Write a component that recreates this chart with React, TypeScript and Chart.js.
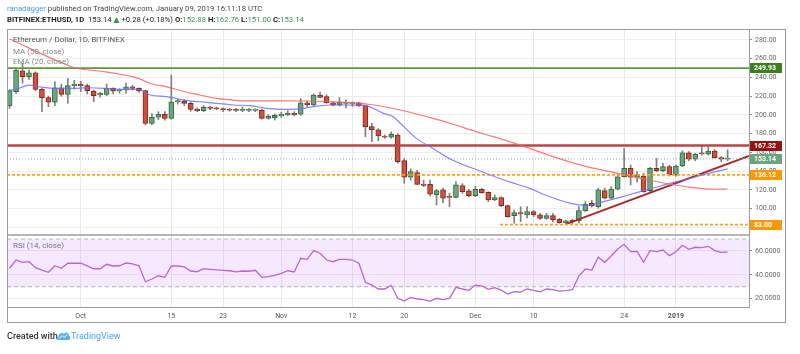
import React, { useEffect, useRef } from "react";
import { Chart, registerables } from "chart.js";

Chart.register(...registerables);

const FONT = "Roboto, 'DejaVu Sans', sans-serif";

// ---- Daily candles, 2018-09-20 .. 2019-01-09 (index = day) ----
const openP = [
  209.5, 224.8, 247.2, 240.8, 245, 227.3, 218.4, 213.5, 229, 222,
  231.2, 232.6, 231.2, 225.5, 221.5, 222, 228.4, 225.5, 226.6, 230.1,
  228.4, 225.9, 191, 197.5, 200.7, 196.4, 214.1, 214.9, 212.4, 206.3,
  204.5, 208.5, 207.5, 206.8, 206.3, 205.9, 204.8, 204.8, 204.8, 205.3,
  196.4, 197, 198.9, 200, 201.7, 200.7, 213, 210.6, 221.3, 219.5,
  213, 210.6, 212.4, 211.8, 213, 209.9, 187.5, 184, 177.5, 176.2,
  178.6, 151.2, 133.5, 138.4, 126.3, 126, 114.6, 120, 113, 112.1,
  124.5, 118.9, 113.9, 120.7, 117.5, 109.3, 111.7, 103.2, 92.5, 95.7,
  93.3, 96.8, 93.3, 89.7, 92.5, 88.7, 85, 87.5, 86.9, 97.9,
  105.7, 102.1, 119.2, 111.1, 120.7, 134.1, 143, 133.5, 134.9, 119.2,
  143, 140.5, 144.8, 135.9, 145.5, 159.7, 152.7, 159.7, 158.3, 161.5,
  154.4, 152.88,
];
const highP = [
  227, 249.7, 255, 248, 246, 228.5, 220, 235.5, 233, 239,
  237, 236, 233, 226.5, 224, 233, 229, 228, 234, 231.5,
  229, 226.5, 201.5, 203.5, 203.5, 242.6, 216.5, 216.5, 214, 207.5,
  210, 209.5, 208.5, 207.5, 207, 207, 208.5, 207, 206.5, 206.5,
  200.5, 201, 203, 204.5, 203.5, 217.5, 215, 222.5, 224.5, 221.5,
  214, 218.5, 216, 214, 213.7, 210.5, 191, 185.5, 178.5, 182,
  180, 153.5, 142.5, 141, 130.5, 130.5, 120.5, 122, 116.4, 128.8,
  126.7, 120.7, 124, 121.8, 118.1, 114.6, 112.7, 103.9, 98.5, 102.1,
  102.1, 97.9, 95, 95, 95, 89.7, 87.9, 88.6, 102.1, 107.5,
  109, 121.8, 121.8, 123.5, 136.3, 164.4, 146.5, 139.5, 137.7, 144,
  153.7, 148.4, 146.5, 146.5, 161.9, 160.8, 159, 166.9, 166, 163,
  155.5, 162.76,
];
const lowP = [
  207, 223, 234, 238, 225.9, 203.5, 208.8, 210, 220, 212.4,
  227.6, 224.8, 222.5, 214.1, 219, 220.5, 222.5, 223, 222.9, 226.5,
  224, 189.3, 189.5, 195, 194.5, 195.5, 211.5, 210, 204, 203.5,
  203.5, 205.5, 205.5, 203.5, 204, 203.5, 203.5, 203.5, 203.5, 195.5,
  195.5, 194.5, 197.5, 199, 199, 199.5, 209, 209.5, 218.5, 212.5,
  209.5, 209.5, 207.5, 209, 209, 176.8, 171.5, 172.5, 175, 175,
  148.5, 127.1, 130.5, 125.5, 123.5, 113.5, 104, 106.5, 102.1, 111.5,
  116.4, 112.8, 112.8, 116.5, 107.5, 108.6, 102.1, 90.8, 84.4, 86.1,
  90.1, 91.5, 88.6, 88.6, 86.1, 84.4, 83.3, 84, 84.4, 97,
  101.6, 100.5, 110.3, 110.3, 120, 133.5, 125.3, 128.2, 117.5, 118.1,
  139.5, 139.5, 134.8, 134.8, 144.8, 151.2, 151.2, 157.2, 157.2, 154,
  150.1, 151,
];
const closeP = [
  225.9, 248, 240.8, 245, 227.3, 218.4, 213.5, 229, 222, 231.2,
  233, 231.2, 225.9, 220.5, 223, 228.4, 225.5, 226.3, 230.1, 228.4,
  226, 191, 197.5, 200.7, 196.4, 214.1, 215.2, 212.4, 206, 204.5,
  208.1, 207, 206.3, 205.5, 205, 204.8, 205.9, 205.9, 205.6, 196.4,
  198.5, 199.5, 200.7, 201.7, 200, 212.8, 210.6, 221.3, 218.8, 213.1,
  210.6, 213.5, 213.5, 213, 209.9, 187.5, 184, 177.5, 176.2, 179.3,
  150.1, 133.5, 139.5, 126, 124.9, 115.4, 119.2, 111.1, 112, 125.3,
  118.1, 113.9, 120.7, 117.1, 109.3, 111.7, 103.2, 91.5, 95.7, 94.3,
  96.8, 93.3, 89.7, 92.5, 87.9, 85, 86.9, 86, 97.9, 104.7,
  102.9, 120, 111.1, 121, 134.1, 143, 133.5, 136, 118.1, 143,
  140.5, 144.8, 135.9, 145.5, 159.7, 152.7, 158.3, 158.3, 161.5, 154.4,
  152.9, 153.14,
];

// ---- MA (50) (day index -> value) ----
const maX = [0, 8.8, 10.4, 14.8, 19.9, 22, 24.3, 26.9, 29.4, 32, 34.6, 36.1, 40.3, 45.4, 50, 55.2, 60.4, 65.5, 68.1, 72.2, 74.8, 80.4, 84, 89.2, 94.4, 99.5, 103.1, 105.2, 109.2, 111];
const maY = [281, 253.5, 249.8, 246, 239, 233, 230, 225, 221.3, 217.7, 215.9, 215, 215, 214.9, 214, 211.7, 205.3, 196.4, 191.1, 182, 176.8, 164.4, 155.5, 144.8, 137.2, 129.5, 125, 122.8, 120.7, 121];

// ---- EMA (20) ----
const emaX = [0, 1.4, 3, 4.5, 6.6, 9.6, 12.2, 14.8, 17.3, 19.9, 21.7, 24.3, 26.9, 29.4, 32, 34.6, 37.2, 39.8, 42.3, 44.9, 47.5, 50, 54.7, 57.8, 59.3, 60.4, 62.9, 65.5, 68.1, 72.4, 77.5, 80.4, 82.8, 86.7, 89, 90.5, 91.5, 94.6, 97.2, 99.8, 103.1, 105.2, 107.5, 111];
const emaY = [226, 228.4, 231.9, 230.1, 228.4, 228.4, 229, 228.4, 227.3, 227.2, 221.3, 219.5, 215.9, 214.1, 212.4, 210.6, 209.9, 207.1, 206, 206.5, 209.5, 210.6, 210.5, 201.7, 198.1, 191.1, 175, 164, 153, 141, 128, 121.7, 114.6, 105.7, 103.5, 104.7, 107, 112.5, 117.6, 122.6, 128.8, 132.4, 136.8, 142.5];

// ---- RSI (14) one value per day ----
const rsiV = [
  45.5, 52.4, 50.5, 51, 46, 44, 42.1, 47.6, 45.5, 49.7,
  49.7, 49.7, 47.5, 45.1, 45.1, 48.8, 47.4, 47.6, 49.9, 49.1,
  47.6, 34.2, 36.5, 39.2, 37.9, 47.4, 47.4, 46.6, 43.2, 42.6,
  45.1, 44.6, 44.2, 43.8, 43.4, 42.4, 43.2, 43, 43.8, 37.9,
  38.4, 39.5, 41.3, 43.4, 42.4, 53.9, 53, 60.3, 58.1, 52.4,
  51, 53, 53, 52.4, 49.7, 33.7, 31.4, 28.1, 28.1, 31.2,
  20.3, 18, 21.1, 19.7, 19.2, 18, 20.3, 19.2, 20.3, 29.5,
  28.1, 27, 31.4, 30.8, 27.8, 29.2, 27.2, 23.9, 25.8, 25.5,
  28.1, 27, 25.8, 28.1, 27.5, 26.4, 26.7, 27.5, 39, 44.9,
  44, 54.7, 50.5, 55.8, 61.7, 65.6, 59.4, 59.7, 50.5, 60.3,
  59.4, 60.8, 56.1, 59.4, 64.8, 61.4, 63.1, 62.8, 63.9, 60.3,
  58.9, 59.1,
];

// ---- axes ----
const timeTickIdx = [11, 25, 33, 42, 53, 61, 72, 81, 95, 103];
const timeTickLabels = ["Oct", "15", "23", "Nov", "12", "20", "Dec", "10", "24", "2019"];
const priceTicks = [80, 100, 120, 140, 160, 180, 200, 220, 240, 260, 280];
const rsiTicks = [20, 40, 60];
const rsiBand = [70, 30];

// ---- drawn levels ----
const resistHigh = 249.93;
const resistMid = 167.32;
const lastClose = 153.14;
const support1 = 136.12;
const support2 = 83.0;
const support2FromIdx = 75.8;
const trendIdx = [86, 114.3];
const trendVal = [83.5, 156.2];

const X_MIN = -0.4;
const X_MAX = 114.3;

const UP_FILL = "#6ba57f";
const UP_LINE = "#2f6a43";
const DN_FILL = "#d24f3c";
const DN_LINE = "#7e2a1f";

const levelTags: [number, string][] = [
  [resistHigh, "#3d7d22"],
  [resistMid, "#941414"],
  [lastClose, "#6ba57f"],
  [support1, "#ff9800"],
  [support2, "#ff9800"],
];

const flat = (v: number, from: number = X_MIN) => [
  { x: from, y: v },
  { x: X_MAX, y: v },
];

const framePlugin = {
  id: "frame",
  beforeDraw(chart: any) {
    const { ctx } = chart;
    ctx.save();
    ctx.fillStyle = "#ffffff";
    ctx.fillRect(0, 0, chart.width, chart.height);
    ctx.restore();
  },
  afterDraw(chart: any) {
    const { ctx, chartArea: ca, scales } = chart;
    const y = scales.y;
    const y2 = scales.y2;
    ctx.save();
    ctx.strokeStyle = "#9c9c9c";
    ctx.lineWidth = 1;
    ctx.strokeRect(7.5, 29.5, 778, 293);
    ctx.beginPath();
    ctx.moveTo(Math.round(ca.right) + 0.5, 29);
    ctx.lineTo(Math.round(ca.right) + 0.5, ca.bottom + 1);
    ctx.moveTo(7, Math.round(ca.bottom) + 0.5);
    ctx.lineTo(ca.right + 1, Math.round(ca.bottom) + 0.5);
    ctx.stroke();
    ctx.lineWidth = 1.5;
    ctx.beginPath();
    ctx.moveTo(7, Math.round(y2.top));
    ctx.lineTo(ca.right, Math.round(y2.top));
    ctx.stroke();

    ctx.font = `bold 7px ${FONT}`;
    ctx.textBaseline = "middle";
    ctx.textAlign = "left";
    levelTags.forEach(([v, bg]) => {
      const py = y.getPixelForValue(v);
      ctx.fillStyle = bg;
      ctx.fillRect(ca.right + 1, Math.round(py - 5), 32, 10);
      ctx.fillStyle = "#ffffff";
      ctx.fillText(v.toFixed(2), ca.right + 5, py + 0.5);
    });
    ctx.restore();
  },
};

export default function App() {
  const ref = useRef<HTMLCanvasElement>(null);

  useEffect(() => {
    const idx = openP.map((_, i) => i);
    const up = idx.map((i) => closeP[i] >= openP[i]);

    const chart = new Chart(ref.current as HTMLCanvasElement, {
      type: "line",
      data: {
        datasets: [
          {
            type: "line",
            label: "MA",
            data: maX.map((x, i) => ({ x, y: maY[i] })),
            borderColor: "rgba(246, 96, 96, 0.85)",
            borderWidth: 1.2,
            pointRadius: 0,
            cubicInterpolationMode: "monotone",
            yAxisID: "y",
            order: 0,
          },
          {
            type: "line",
            label: "EMA",
            data: emaX.map((x, i) => ({ x, y: emaY[i] })),
            borderColor: "rgba(110, 110, 250, 0.85)",
            borderWidth: 1.2,
            pointRadius: 0,
            cubicInterpolationMode: "monotone",
            yAxisID: "y",
            order: 0,
          },
          {
            type: "line",
            label: "R1",
            data: flat(resistHigh),
            borderColor: "#5c9a3c",
            borderWidth: 1.8,
            pointRadius: 0,
            yAxisID: "y",
            order: 0,
          },
          {
            type: "line",
            label: "R2",
            data: flat(resistMid),
            borderColor: "#b84646",
            borderWidth: 2.5,
            pointRadius: 0,
            yAxisID: "y",
            order: 0,
          },
          {
            type: "line",
            label: "last",
            data: flat(lastClose),
            borderColor: "#7fb592",
            borderWidth: 1,
            borderDash: [1, 2],
            pointRadius: 0,
            yAxisID: "y",
            order: 0,
          },
          {
            type: "line",
            label: "S1",
            data: flat(support1),
            borderColor: "#ff9f1a",
            borderWidth: 1.8,
            borderDash: [3, 2],
            pointRadius: 0,
            yAxisID: "y",
            order: 0,
          },
          {
            type: "line",
            label: "S2",
            data: flat(support2, support2FromIdx),
            borderColor: "#ff9f1a",
            borderWidth: 1.8,
            borderDash: [3, 2],
            pointRadius: 0,
            yAxisID: "y",
            order: 0,
          },
          {
            type: "line",
            label: "trend",
            data: trendIdx.map((x, i) => ({ x, y: trendVal[i] })),
            borderColor: "#a82a2a",
            borderWidth: 2,
            pointRadius: 0,
            yAxisID: "y",
            order: 0,
          },
          {
            type: "bar",
            label: "body",
            data: idx.map((i) => ({ x: i, y: [openP[i], closeP[i]] })) as any,
            backgroundColor: up.map((u) => (u ? UP_FILL : DN_FILL)),
            borderColor: up.map((u) => (u ? UP_LINE : DN_LINE)),
            borderWidth: 1,
            borderSkipped: false,
            barThickness: 5,
            minBarLength: 1,
            grouped: false,
            yAxisID: "y",
            order: 1,
          } as any,
          {
            type: "bar",
            label: "wick",
            data: idx.map((i) => ({ x: i, y: [lowP[i], highP[i]] })) as any,
            backgroundColor: "#808080",
            barThickness: 1,
            grouped: false,
            yAxisID: "y",
            order: 2,
          } as any,
          {
            type: "line",
            label: "rsi70",
            data: flat(rsiBand[0]),
            borderColor: "#b8b8b8",
            borderWidth: 1,
            borderDash: [4, 3],
            pointRadius: 0,
            fill: "+1",
            backgroundColor: "rgba(178, 102, 255, 0.14)",
            yAxisID: "y2",
            order: 5,
          },
          {
            type: "line",
            label: "rsi30",
            data: flat(rsiBand[1]),
            borderColor: "#b8b8b8",
            borderWidth: 1,
            borderDash: [4, 3],
            pointRadius: 0,
            yAxisID: "y2",
            order: 5,
          },
          {
            type: "line",
            label: "RSI",
            data: idx.map((i) => ({ x: i, y: rsiV[i] })),
            borderColor: "#bd62d6",
            borderWidth: 1.3,
            pointRadius: 0,
            yAxisID: "y2",
            order: 0,
          },
        ],
      },
      options: {
        animation: false,
        responsive: false,
        events: [],
        layout: { padding: { left: 7, top: 29, right: 14, bottom: 31 } },
        plugins: { legend: { display: false }, tooltip: { enabled: false } },
        scales: {
          x: {
            type: "linear",
            min: X_MIN,
            max: X_MAX,
            offset: false,
            afterBuildTicks: (s: any) => {
              s.ticks = timeTickIdx.map((v) => ({ value: v }));
            },
            afterFit: (s: any) => {
              s.height = 16;
            },
            grid: { color: "#e9e9e9", drawTicks: false, offset: false },
            border: { display: false },
            ticks: {
              autoSkip: false,
              maxRotation: 0,
              padding: 5,
              color: "#555",
              font: (c: any) => ({
                family: FONT,
                size: 7,
                weight: c.tick && c.tick.value === 103 ? "bold" : "normal",
              }),
              callback: (v: any) => {
                const k = timeTickIdx.indexOf(Number(v));
                return k >= 0 ? timeTickLabels[k] : "";
              },
            },
          },
          y: {
            type: "linear",
            position: "right",
            stack: "panes",
            stackWeight: 206,
            min: 71.9,
            max: 291.7,
            afterBuildTicks: (s: any) => {
              s.ticks = priceTicks.map((v) => ({ value: v }));
            },
            afterFit: (s: any) => {
              s.width = 37;
            },
            grid: { color: "#ededed", tickColor: "#8a8a8a", tickLength: 3 },
            border: { display: false },
            ticks: {
              autoSkip: false,
              padding: 3,
              color: "#666",
              font: { family: FONT, size: 7 },
              callback: (v: any) => Number(v).toFixed(2),
            },
          },
          y2: {
            type: "linear",
            position: "right",
            stack: "panes",
            stackWeight: 72,
            min: 13,
            max: 73.4,
            afterBuildTicks: (s: any) => {
              s.ticks = rsiTicks.map((v) => ({ value: v }));
            },
            afterFit: (s: any) => {
              s.width = 37;
            },
            grid: { color: "#ededed", tickColor: "#8a8a8a", tickLength: 3 },
            border: { display: false },
            ticks: {
              autoSkip: false,
              padding: 3,
              color: "#666",
              font: { family: FONT, size: 7 },
              callback: (v: any) => Number(v).toFixed(4),
            },
          },
        },
      } as any,
      plugins: [framePlugin],
    });
    return () => chart.destroy();
  }, []);

  const green = "#2f9a48";
  const txt: React.CSSProperties = {
    position: "absolute",
    whiteSpace: "nowrap",
    fontFamily: FONT,
    lineHeight: "10px",
  };

  return (
    <div style={{ position: "absolute", left: 0, top: 0, width: 800, height: 354, background: "#fff", overflow: "hidden" }}>
      <canvas ref={ref} width={800} height={354} style={{ position: "absolute", left: 0, top: 0, width: 800, height: 354 }} />
      <div style={{ ...txt, left: 7, top: 4, fontSize: 7.7, color: "#444" }}>
        <span style={{ color: "#3a9fe3" }}>ranadagger</span> published on TradingView.com, January 09, 2019 16:11:18 UTC
      </div>
      <div style={{ ...txt, left: 7, top: 15, fontSize: 7.7, color: "#222" }}>
        <b>BITFINEX:ETHUSD, 1D</b>&nbsp; 153.14 <span style={{ color: green }}>▲</span> +0.28 (+0.18%) <b>O:</b>
        <span style={{ color: green }}>152.88</span> <b>H:</b>
        <span style={{ color: green }}>162.76</span> <b>L:</b>
        <span style={{ color: green }}>151.00</span> <b>C:</b>
        <span style={{ color: green }}>153.14</span>
      </div>
      <div style={{ ...txt, left: 13, top: 35, fontSize: 8, color: "#555" }}>Ethereum / Dollar, 1D, BITFINEX</div>
      <div style={{ ...txt, left: 13, top: 46.5, fontSize: 8, color: "#888" }}>MA (50, close)</div>
      <div style={{ ...txt, left: 13, top: 57, fontSize: 8, color: "#888" }}>EMA (20, close)</div>
      <div style={{ ...txt, left: 13, top: 241, fontSize: 8, color: "#777" }}>RSI (14, close)</div>
      <div style={{ ...txt, left: 7, top: 331, fontSize: 9, color: "#333", fontWeight: 500 }}>Created with</div>
      <svg style={{ position: "absolute", left: 56, top: 331 }} width="15" height="10" viewBox="0 0 15 10">
        <path d="M2 9 C0 9 0 5.5 2.5 5.5 C2.5 2.5 6 1 8 3 C9.5 0.5 13.5 1.5 13 5 C15 5.5 15 9 12.5 9 Z" fill="#58b0ee" />
        <path d="M3 7.5 L6 4.5 L8 6.5 L11.5 3.5" stroke="#ffffff" strokeWidth="1" fill="none" />
      </svg>
      <div style={{ ...txt, left: 71, top: 331, fontSize: 9, color: "#41a3ea" }}>TradingView</div>
    </div>
  );
}
